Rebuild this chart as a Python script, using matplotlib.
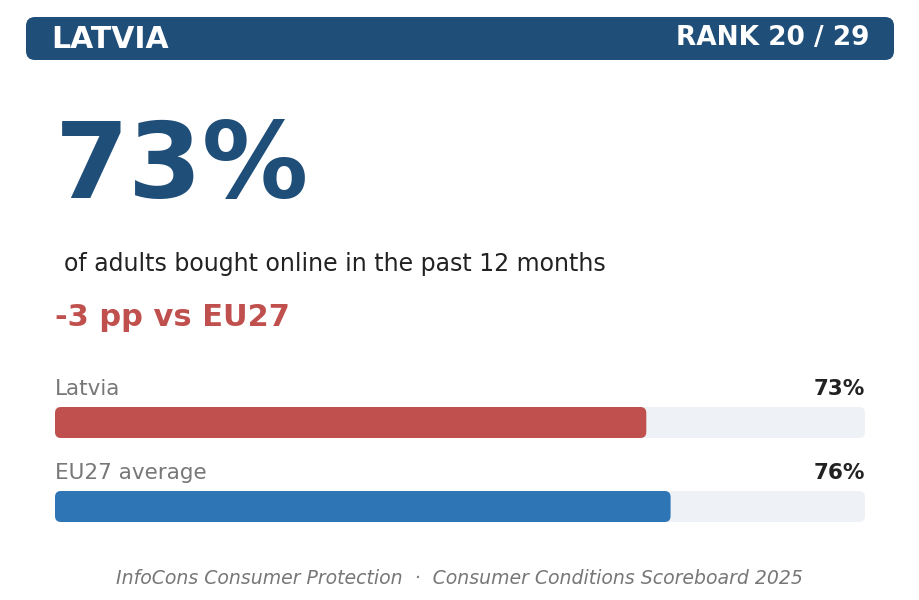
import matplotlib
matplotlib.use("Agg")
import matplotlib.pyplot as plt
from matplotlib.patches import FancyBboxPatch

W, H = 919, 600

country = "LATVIA"
rank = 20
n_countries = 29
headline = 73
subtitle = "of adults bought online in the past 12 months"
source = "InfoCons Consumer Protection  \u00b7  Consumer Conditions Scoreboard 2025"

bar_labels = ["Latvia", "EU27 average"]
bar_values = [73, 76]
bar_colors = ["#c0504d", "#2e75b6"]

NAVY = "#1f4e79"
RED = "#c0504d"
TRACK = "#eef2f7"

fig = plt.figure(figsize=(W / 100, H / 100), dpi=100)
fig.patch.set_facecolor("white")

# main canvas in pixel units
ax = fig.add_axes([0, 0, 1, 1])
ax.set_xlim(0, W)
ax.set_ylim(H, 0)
ax.axis("off")

# header strip
ax.add_patch(FancyBboxPatch((26, 17), 868, 43,
                            boxstyle="round,pad=0,rounding_size=9",
                            fc=NAVY, ec="none"))
ax.text(51, 39, country, color="white", fontsize=21.5, fontweight="bold",
        va="center", ha="left")
ax.text(869, 38, f"RANK {rank} / {n_countries}", color="white", fontsize=19,
        fontweight="bold", va="center", ha="right")

# big number
ax.text(55, 198, f"{headline}%", color=NAVY, fontsize=76.5, fontweight="bold",
        va="baseline", ha="left")
ax.text(64, 264, subtitle, color="#222222", fontsize=17, va="center", ha="left")

diff = headline - bar_values[1]
ax.text(55, 317, f"{diff:d} pp vs EU27", color=RED,
        fontsize=22, fontweight="bold", va="center", ha="left")

# bars
bar_top = [407, 491]
bar_h = 31
bx0, bx1 = 55, 865
bax = fig.add_axes([bx0 / W, 0, (bx1 - bx0) / W, 1])
bax.set_xlim(0, 100)
bax.set_ylim(H, 0)
bax.axis("off")
px_per_unit = (bx1 - bx0) / 100
r = 6 / px_per_unit
for label, val, col, top in zip(bar_labels, bar_values, bar_colors, bar_top):
    bax.add_patch(FancyBboxPatch((0, top), 100, bar_h,
                                 boxstyle=f"round,pad=0,rounding_size={r}",
                                 mutation_aspect=px_per_unit,
                                 fc=TRACK, ec="none"))
    bax.add_patch(FancyBboxPatch((0, top), val, bar_h,
                                 boxstyle=f"round,pad=0,rounding_size={r}",
                                 mutation_aspect=px_per_unit,
                                 fc=col, ec="none"))
    ax.text(bx0, top - 18, label, color="#777777", fontsize=15.5,
            va="center", ha="left")
    ax.text(bx1, top - 18, f"{val}%", color="#222222", fontsize=15.5,
            fontweight="bold", va="center", ha="right")

# footer
ax.text(W / 2, 578, source, color="#777777", fontsize=13.6, style="italic",
        va="center", ha="center")

fig.savefig("out.png", dpi=100, facecolor="white")
